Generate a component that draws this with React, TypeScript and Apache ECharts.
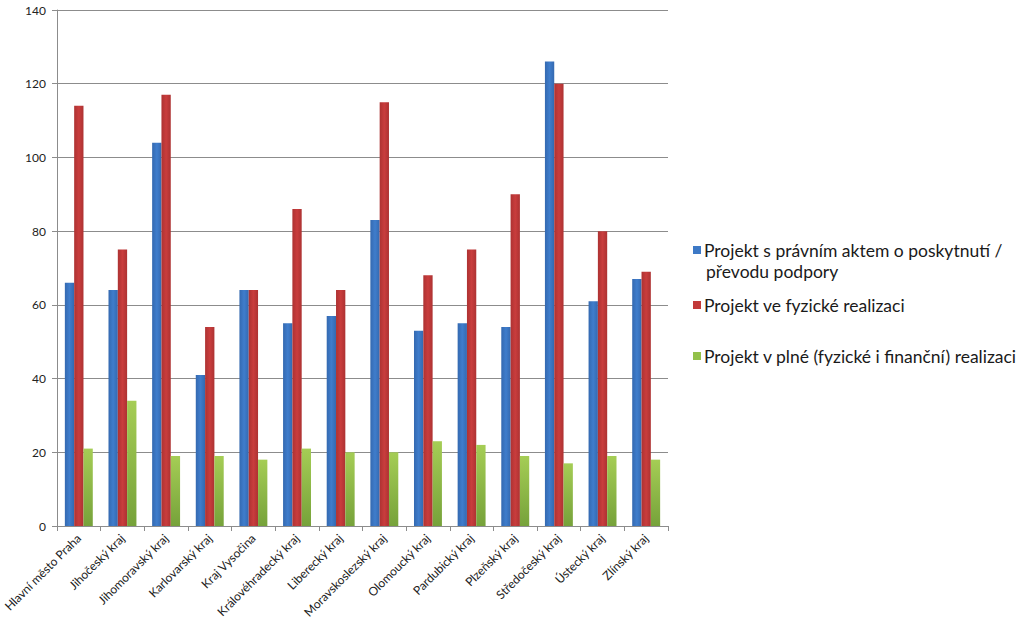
import React, { useEffect, useRef } from "react";
import * as echarts from "echarts";

const categories = [
  "Hlavní město Praha",
  "Jihočeský kraj",
  "Jihomoravský kraj",
  "Karlovarský kraj",
  "Kraj Vysočina",
  "Královéhradecký kraj",
  "Liberecký kraj",
  "Moravskoslezský kraj",
  "Olomoucký kraj",
  "Pardubický kraj",
  "Plzeňský kraj",
  "Středočeský kraj",
  "Ústecký kraj",
  "Zlínský kraj",
];

const seriesNames = [
  "Projekt s právním aktem o poskytnutí / převodu podpory",
  "Projekt ve fyzické realizaci",
  "Projekt v plné (fyzické i finanční) realizaci",
];

const legalAct = [66, 64, 104, 41, 64, 55, 57, 83, 53, 55, 54, 126, 61, 67];
const physical = [114, 75, 117, 54, 64, 86, 64, 115, 68, 75, 90, 120, 80, 69];
const full = [21, 34, 19, 19, 18, 21, 20, 20, 23, 22, 19, 17, 19, 18];

const yTicks = [0, 20, 40, 60, 80, 100, 120, 140];

const FONT = "Lato, 'Open Sans', sans-serif";

function grad(edge: string, mid: string) {
  return new echarts.graphic.LinearGradient(0, 0, 1, 0, [
    { offset: 0, color: edge },
    { offset: 0.5, color: mid },
    { offset: 1, color: edge },
  ]);
}

export default function App() {
  const ref = useRef<HTMLDivElement>(null);
  useEffect(() => {
    if (!ref.current) return;
    const chart = echarts.init(ref.current, undefined, { renderer: "svg" });
    const colors = ["#3d79c6", "#c23a3a", "#93c14a"];
    const fills = [
      grad("#3469b0", "#3f7dcc"),
      grad("#ad3232", "#c93d3d"),
      new echarts.graphic.LinearGradient(0, 0, 0, 1, [
        { offset: 0, color: "#a5cd55" },
        { offset: 1, color: "#76a23a" },
      ]),
    ];
    const data = [legalAct, physical, full];
    const legendTops = [236, 291, 342];
    const legendTextStyle = {
      fontFamily: FONT,
      fontSize: 17.5,
      color: "#1a1a1a",
    };
    chart.setOption({
      animation: false,
      backgroundColor: "#ffffff",
      color: colors,
      textStyle: { fontFamily: FONT },
      grid: { left: 57, right: 356, top: 10, bottom: 104, containLabel: false },
      legend: seriesNames.map((n, i) => ({
        data: [{ name: n, itemStyle: { color: colors[i] } }],
        left: 688,
        top: legendTops[i],
        orient: "vertical",
        icon: "rect",
        itemWidth: 8,
        itemHeight: 8,
        formatter: (name: string) =>
          name === seriesNames[0] ? "Projekt s právním aktem o poskytnutí /" : name,
        textStyle: { ...legendTextStyle, padding: [0, 0, 0, -2] },
        selectedMode: false,
      })),
      graphic: [
        {
          type: "text",
          left: 706,
          top: 262,
          style: { text: "převodu podpory", ...legendTextStyle, fill: "#1a1a1a" },
        },
      ],
      xAxis: {
        type: "category",
        data: categories,
        axisLine: { lineStyle: { color: "#8c8c8c" } },
        axisTick: { show: true, alignWithLabel: false, length: 5, lineStyle: { color: "#8c8c8c" } },
        axisLabel: {
          rotate: 45,
          interval: 0,
          fontSize: 12,
          color: "#222",
          fontFamily: FONT,
          margin: 10,
        },
      },
      yAxis: {
        type: "value",
        min: yTicks[0],
        max: yTicks[yTicks.length - 1],
        interval: 20,
        axisLine: { show: true, lineStyle: { color: "#8c8c8c" } },
        axisTick: { show: true, length: 5, lineStyle: { color: "#8c8c8c" } },
        splitLine: { lineStyle: { color: "#8c8c8c", width: 1 } },
        axisLabel: { fontSize: 12, color: "#222", fontFamily: FONT, margin: 11 },
      },
      series: seriesNames.map((n, i) => ({
        name: n,
        type: "bar",
        data: data[i],
        barGap: "0%",
        barCategoryGap: "36%",
        itemStyle: { color: fills[i] },
      })),
    });
    return () => chart.dispose();
  }, []);
  return (
    <div
      ref={ref}
      style={{ position: "fixed", left: 0, top: 0, width: 1024, height: 630, background: "#fff" }}
    />
  );
}
